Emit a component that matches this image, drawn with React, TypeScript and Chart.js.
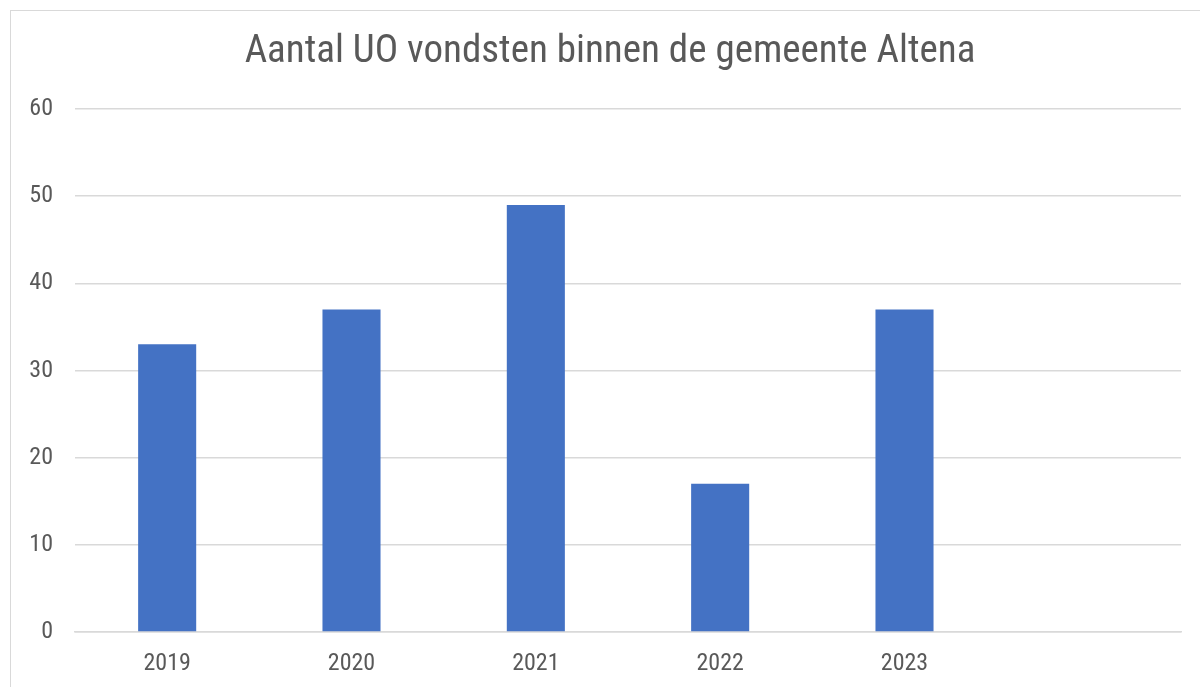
import React, { useEffect, useRef } from "react";
import { Chart, registerables } from "chart.js";

Chart.register(...registerables);

const categories = ["2019", "2020", "2021", "2022", "2023", ""];
const values: (number | null)[] = [33, 37, 49, 17, 37, null];
const yTicks = { min: 0, max: 60, step: 10 };
const title = "Aantal UO vondsten binnen de gemeente Altena";

const FONT = "'Roboto Condensed', Roboto, sans-serif";
const TEXT = "#595959";

const centerTitle = {
  id: "centerTitle",
  afterLayout(chart: any) {
    const tb = chart.titleBlock;
    if (tb) {
      tb.left = 0;
      tb.right = chart.width;
      tb.width = chart.width;
    }
  },
};

export default function App() {
  const ref = useRef<HTMLCanvasElement | null>(null);
  useEffect(() => {
    document.body.style.overflow = "hidden";
    const canvas = ref.current!;
    const chart = new Chart(canvas, {
      type: "bar",
      data: {
        labels: categories,
        datasets: [
          {
            data: values,
            backgroundColor: "#4472C4",
            barPercentage: 1,
            categoryPercentage: 0.315,
          },
        ],
      },
      plugins: [centerTitle],
      options: {
        responsive: false,
        animation: false,
        layout: { padding: { top: 0, right: 28, bottom: 0, left: 0 } },
        plugins: {
          legend: { display: false },
          tooltip: { enabled: false },
          title: {
            display: true,
            text: title,
            color: TEXT,
            font: { family: FONT, size: 39, weight: "normal", lineHeight: 1 },
            padding: { top: 22, bottom: 37 },
          },
        },
        scales: {
          x: {
            grid: { display: false, drawTicks: false },
            border: { display: true, color: "#d9d9d9", width: 1.5 },
            ticks: {
              color: TEXT,
              font: { family: FONT, size: 24, lineHeight: 1 },
              padding: 20,
            },
            afterFit: (s: any) => {
              s.height = 69;
            },
          },
          y: {
            min: yTicks.min,
            max: yTicks.max,
            grid: { color: "#d9d9d9", lineWidth: 1.5, drawTicks: false },
            border: { display: false },
            ticks: {
              stepSize: yTicks.step,
              color: TEXT,
              font: { family: FONT, size: 24, lineHeight: 1 },
              padding: 22,
            },
            afterFit: (s: any) => {
              s.width = 64;
            },
          },
        },
      },
    });
    return () => chart.destroy();
  }, []);
  return (
    <div
      style={{
        position: "fixed",
        left: 0,
        top: 0,
        width: 1200,
        height: 687,
        overflow: "hidden",
        background: "#fff",
      }}
    >
      <div
        style={{
          position: "absolute",
          left: 10,
          top: 10,
          width: 1198,
          height: 690,
          border: "1px solid #d9d9d9",
          background: "#fff",
        }}
      >
        <canvas ref={ref} width={1198} height={690} style={{ display: "block" }} />
      </div>
    </div>
  );
}
